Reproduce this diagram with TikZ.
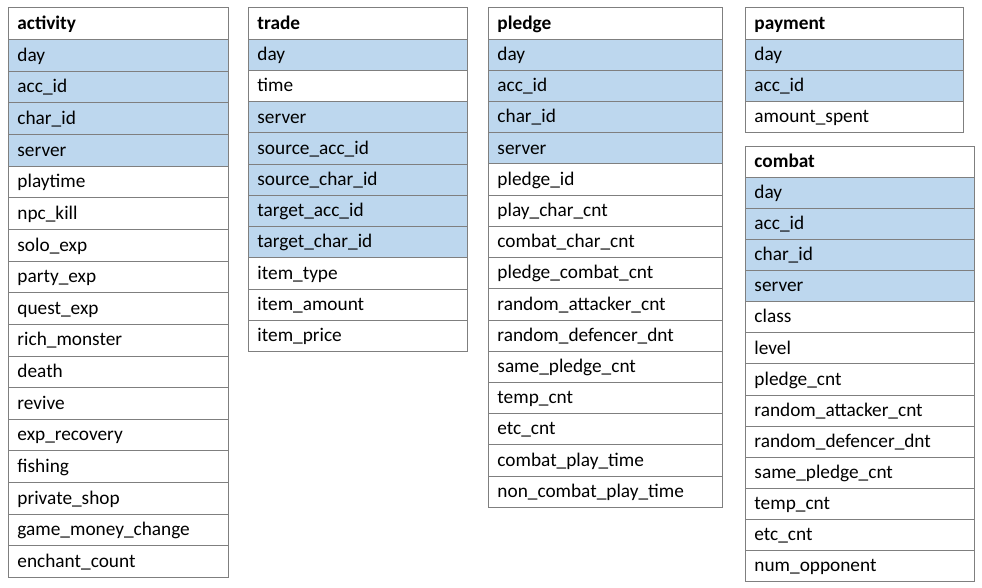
\documentclass[tikz,border=0pt]{standalone}
\usepackage{fontspec}
\setmainfont{Carlito}
\definecolor{keyblue}{HTML}{BDD7EE}
\definecolor{gridgray}{HTML}{7F7F7F}
\tikzset{
  cell/.style={draw=gridgray, line width=0.9pt, rectangle, anchor=north west,
    inner xsep=9pt, inner ysep=0pt, align=left, text height=17.5pt, text depth=6pt,
    font=\fontsize{19.3}{23}\selectfont, text=black},
  hdrrow/.style={fill=white, font=\fontsize{19.3}{23}\selectfont\bfseries},
  keyrow/.style={fill=keyblue},
  datarow/.style={fill=white}
}
% #1 name, #2 x, #3 top, #4 width, #5 row height, #6 header, #7 rows
\newcommand\erdtable[7]{%
  \pgfmathsetmacro\erdtw{#4-18}%
  \node[cell, hdrrow, text width=\erdtw pt, minimum height=#5pt] (#1-0) at (#2,#3) {#6};
  \foreach \k/\t [count=\i] in {#7} {
    \node[cell, \k, text width=\erdtw pt, minimum height=#5pt] (#1-\i) at (#2,{#3+\i*#5}) {\t};
  }%
}
\begin{document}
\begin{tikzpicture}[x=1pt, y=-1pt]
\useasboundingbox (0,0) rectangle (982,588);
\erdtable{activity}{8}{7.5}{220}{31.64}{activity}{keyrow/day, keyrow/acc\_id, keyrow/char\_id, keyrow/server, datarow/playtime, datarow/npc\_kill, datarow/solo\_exp, datarow/party\_exp, datarow/quest\_exp, datarow/rich\_monster, datarow/death, datarow/revive, datarow/exp\_recovery, datarow/fishing, datarow/private\_shop, datarow/game\_money\_change, datarow/enchant\_count}
\erdtable{trade}{248}{7.5}{219}{31.23}{trade}{keyrow/day, datarow/time, keyrow/server, keyrow/source\_acc\_id, keyrow/source\_char\_id, keyrow/target\_acc\_id, keyrow/target\_char\_id, datarow/item\_type, datarow/item\_amount, datarow/item\_price}
\erdtable{pledge}{488}{7.5}{234}{31.2}{pledge}{keyrow/day, keyrow/acc\_id, keyrow/char\_id, keyrow/server, datarow/pledge\_id, datarow/play\_char\_cnt, datarow/combat\_char\_cnt, datarow/pledge\_combat\_cnt, datarow/random\_attacker\_cnt, datarow/random\_defencer\_dnt, datarow/same\_pledge\_cnt, datarow/temp\_cnt, datarow/etc\_cnt, datarow/combat\_play\_time, datarow/non\_combat\_play\_time}
\erdtable{payment}{745}{7.5}{218}{31.05}{payment}{keyrow/day, keyrow/acc\_id, datarow/amount\_spent}
\erdtable{combat}{745}{145.7}{229}{31.1}{combat}{keyrow/day, keyrow/acc\_id, keyrow/char\_id, keyrow/server, datarow/class, datarow/level, datarow/pledge\_cnt, datarow/random\_attacker\_cnt, datarow/random\_defencer\_dnt, datarow/same\_pledge\_cnt, datarow/temp\_cnt, datarow/etc\_cnt, datarow/num\_opponent}
\end{tikzpicture}
\end{document}
